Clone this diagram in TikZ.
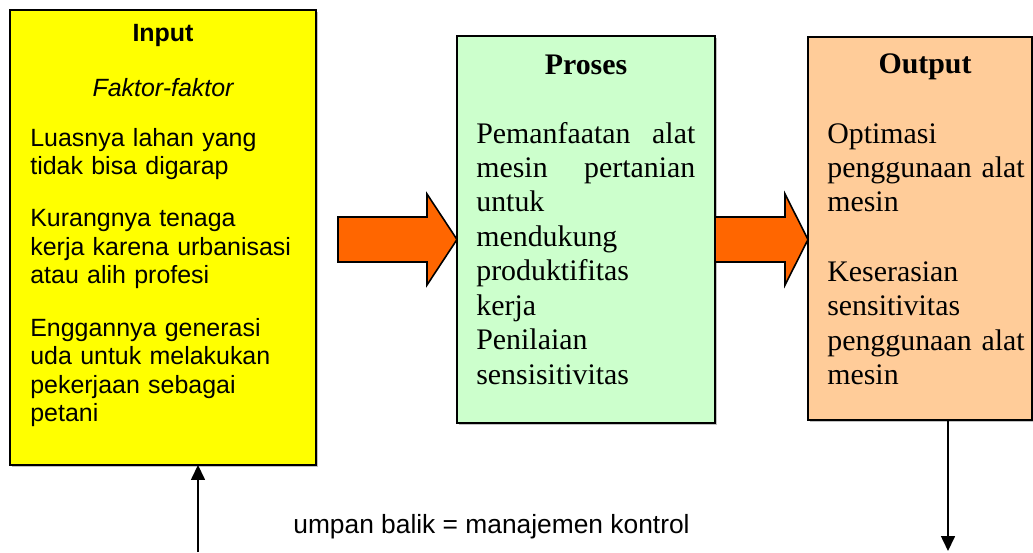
\documentclass[tikz,border=0pt]{standalone}
\usepackage{xcolor}
\usepackage{fontspec}
\setmainfont{Liberation Serif}
\setsansfont{Liberation Sans}
\usetikzlibrary{arrows.meta,shadows}
\definecolor{InpFill}{HTML}{FFFF00}
\definecolor{ProFill}{HTML}{CCFFCC}
\definecolor{OutFill}{HTML}{FFCC99}
\definecolor{ArrFill}{HTML}{FF6600}
\newcommand{\sansbody}{\fontsize{14.2}{16.2}\selectfont\sffamily}
\newcommand{\serifbody}{\fontsize{17}{19.6}\selectfont\rmfamily}
\tikzset{
  box/.style={draw, line width=0.9pt, inner sep=0pt, outer sep=0pt,
    drop shadow={shadow xshift=0.04cm, shadow yshift=-0.04cm, fill=black!40, opacity=0.6}},
  fatarrow/.style={draw, line width=0.9pt, fill=ArrFill, line join=miter},
  thinarrow/.style={line width=0.9pt, -{Triangle[length=0.3cm, width=0.28cm]}},
  bodytext/.style={inner sep=0pt, align=left, anchor=base west}
}

\begin{document}
\begin{tikzpicture}[x=0.02cm, y=-0.02cm]%
\useasboundingbox (0,0) rectangle (1033,552);%
% boxes
\node[box, fill=InpFill, minimum width=6.12cm, minimum height=9.1cm] (input) at (163,237.5) {};%
\node[box, fill=ProFill, minimum width=5.16cm, minimum height=7.74cm] (proses) at (586,229.5) {};%
\node[box, fill=OutFill, minimum width=4.48cm, minimum height=7.66cm] (output) at (920,228.5) {};%
% input text
\node[inner sep=0pt, anchor=base, font=\sansbody\bfseries] (inTitle) at (163,41) {Input};%
\node[inner sep=0pt, anchor=base, font=\sansbody\itshape] (inSub) at (163,96) {Faktor-faktor};%
\node[bodytext, text width=5.7cm, font=\sansbody] (inBody) at (30,146) {Luasnya lahan yang\\ tidak bisa digarap\\[0.48cm] Kurangnya tenaga\\ kerja karena urbanisasi\\ atau alih profesi\\[0.48cm] Enggannya generasi\\ uda untuk melakukan\\ pekerjaan sebagai\\ petani};%
% proses text
\node[inner sep=0pt, anchor=base, font=\serifbody\bfseries] (proTitle) at (586,74) {Proses};%
\node[bodytext, text width=4.38cm, font=\serifbody] (proBody) at (476,143) {\makebox[4.38cm][s]{Pemanfaatan\hfill alat}\\ \makebox[4.38cm][s]{mesin\hfill pertanian}\\ untuk\\ mendukung\\ produktifitas\\ kerja\\ Penilaian\\ sensisitivitas};%
% output text
\node[inner sep=0pt, anchor=base, font=\serifbody\bfseries] (outTitle) at (925,73) {Output};%
\node[bodytext, text width=4.1cm, font=\serifbody] (outBody) at (827,143) {Optimasi\\ penggunaan alat\\ mesin\\[0.7cm] Keserasian\\ sensitivitas\\ penggunaan alat\\ mesin};%
% block arrows
\coordinate (arrA) at (338,217);%
\coordinate (arrB) at (715,217);%
\draw[fatarrow] (arrA) -- ++(89,0) -- ++(0,-23) -- ++(30,45.5) -- ++(-30,45.5) -- ++(0,-23) -- ++(-89,0) -- cycle;%
\draw[fatarrow] (arrB) -- ++(70,0) -- ++(0,-23) -- ++(23,45.5) -- ++(-23,45.5) -- ++(0,-23) -- ++(-70,0) -- cycle;%
% feedback
\coordinate (fbFrom) at (198,552);%
\coordinate (fbTo) at (948,551);%
\draw[thinarrow] (fbFrom) -- (input.south -| fbFrom);%
\draw[thinarrow] (output.south -| fbTo) -- (fbTo);%
\node[inner sep=0pt, anchor=base west, font=\fontsize{15}{17}\selectfont\sffamily] (fbLabel) at (293,533) {umpan balik = manajemen kontrol};%
\end{tikzpicture}
\end{document}
